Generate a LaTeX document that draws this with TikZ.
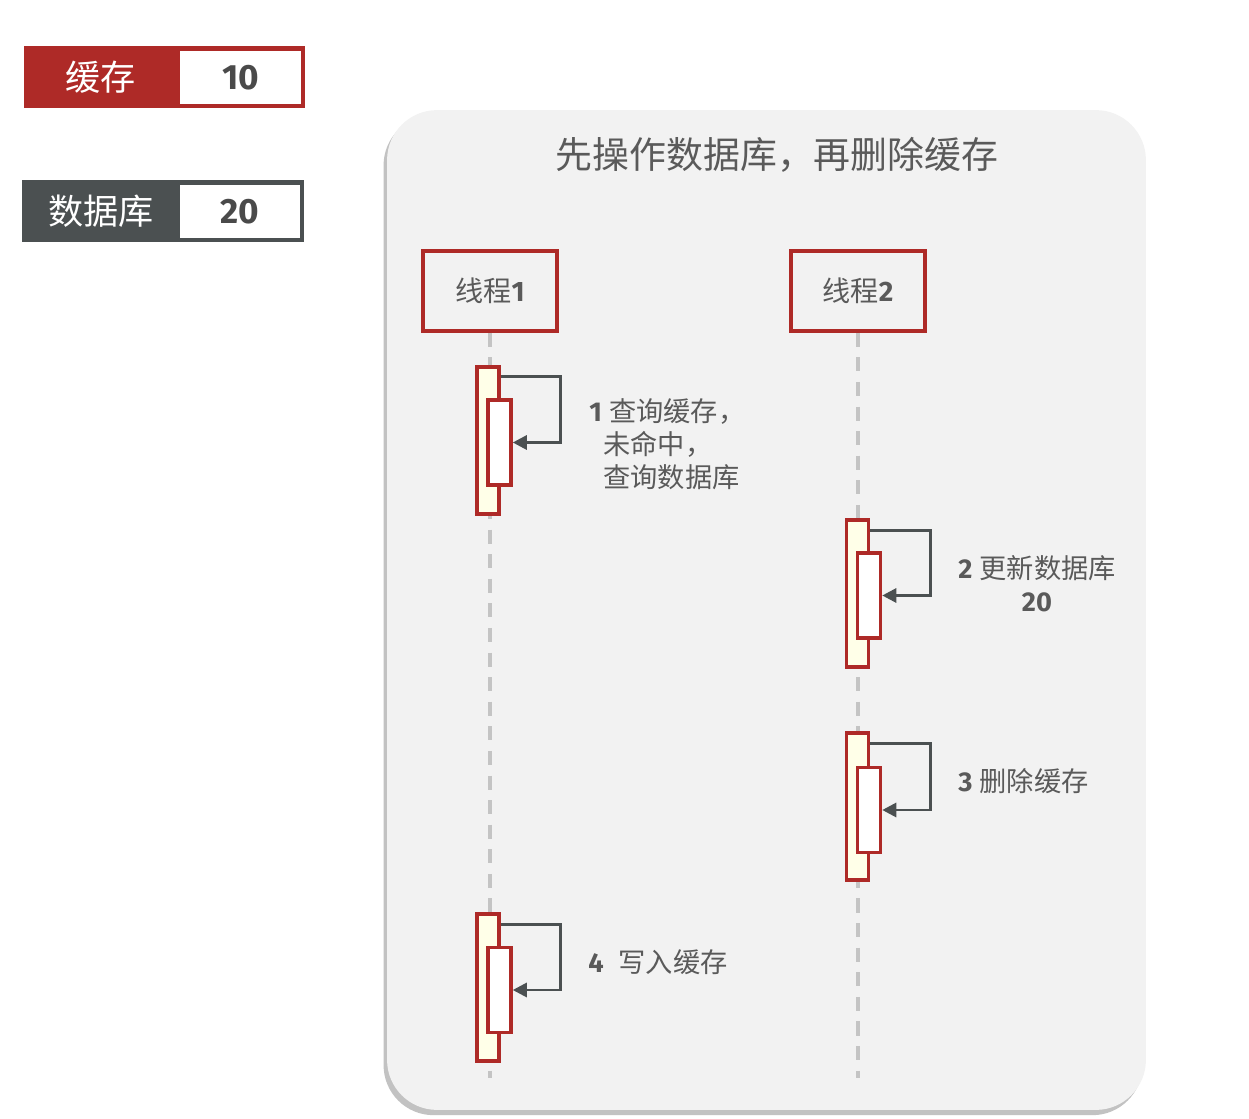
\documentclass[tikz,border=0pt]{standalone}
\usepackage{fontspec}
\setmainfont{Fira Sans}
\newfontfamily\cjk{Noto Sans CJK SC}
\usepackage{tikz}
\usetikzlibrary{arrows.meta,shadows}
\definecolor{redline}{HTML}{AE2A27}
\definecolor{darkbox}{HTML}{4B5051}
\definecolor{panelgray}{HTML}{F2F2F2}
\definecolor{actyellow}{HTML}{FFFFE8}
\definecolor{linegray}{HTML}{C4C4C4}
\definecolor{textgray}{HTML}{5A5A5A}
\definecolor{numgray}{HTML}{4A4A4A}
\tikzset{
  thread/.style={draw=redline, line width=2pt, fill=panelgray, minimum width=2.68cm, minimum height=1.6cm, text=textgray, font=\fontsize{16}{19}\selectfont},
  outerbar/.style={draw=redline, line width=2pt, fill=actyellow, minimum width=0.44cm, minimum height=2.94cm, inner sep=0pt},
  innerbar/.style={draw=redline, line width=2pt, fill=white, minimum width=0.46cm, minimum height=1.7cm, inner sep=0pt},
  lifeline/.style={draw=linegray, line width=1.8pt, dash pattern=on 8pt off 6pt},
  selfmsg/.style={draw=darkbox, line width=1.6pt, -{Triangle[length=0.28cm,width=0.28cm]}},
  steptext/.style={text=textgray, font=\fontsize{15.5}{19}\selectfont, inner sep=0pt},
  valbox/.style={fill=white, minimum width=2.42cm, minimum height=1.06cm, text=numgray, font=\fontsize{20}{24}\selectfont\bfseries}
}
\begin{document}
\begin{tikzpicture}[x=0.02cm, y=-0.02cm]
			\useasboundingbox (0,0) rectangle (1249,1119);
			\node[fill=redline, minimum width=5.62cm, minimum height=1.24cm] (cache) at (164.5,77) {};
			\node[valbox] (cacheval) at (240.5,77.5) {10};
			\node[text=white, font=\fontsize{20}{24}\selectfont\cjk] (cachelbl) at (101,77) {缓存};
			\node[fill=darkbox, minimum width=5.64cm, minimum height=1.24cm] (db) at (163,211) {};
			\node[valbox] (dbval) at (240,211.5) {20};
			\node[text=white, font=\fontsize{20}{24}\selectfont\cjk] (dblbl) at (101,211) {数据库};
			\node[fill=panelgray, rounded corners=1cm, minimum width=15.18cm, minimum height=20cm, drop shadow={shadow xshift=-2pt, shadow yshift=-3pt, fill=black!40, opacity=0.6}] (panel) at (766.5,610) {};
			\node[text=textgray, font=\fontsize{21}{24}\selectfont\cjk] (title) at (777,155) {先操作数据库，再删除缓存};
			\node[thread] (t1) at (490,291) {{\cjk 线程}\textbf{1}};
			\node[thread] (t2) at (858,291) {{\cjk 线程}\textbf{2}};
			\coordinate (end1) at (490,1078);
			\coordinate (end2) at (858,1078);
			\draw[lifeline] (t1.south) -- (end1);
			\draw[lifeline] (t2.south) -- (end2);
			\node[outerbar] (a1) at (488,440.5) {};
			\node[innerbar] (b1) at (499.5,442.5) {};
			\node[outerbar] (a2) at (857.5,593.5) {};
			\node[innerbar] (b2) at (869,595.5) {};
			\node[outerbar] (a3) at (857.5,806.5) {};
			\node[innerbar] (b3) at (869,810) {};
			\node[outerbar] (a4) at (488,987.5) {};
			\node[innerbar] (b4) at (499.5,990) {};
			\draw[selfmsg] ([yshift=-0.22cm]a1.north east) -- ++(1.2cm,0) |- (b1.east);
			\draw[selfmsg] ([yshift=-0.24cm]a2.north east) -- ++(1.2cm,0) |- (b2.east);
			\draw[selfmsg] ([yshift=-0.24cm]a3.north east) -- ++(1.2cm,0) |- (b3.east);
			\draw[selfmsg] ([yshift=-0.24cm]a4.north east) -- ++(1.2cm,0) |- (b4.east);
			\node[steptext, anchor=north west, align=left] (s1) at (589,398) {\textbf{1} {\cjk 查询缓存，}\\\hspace*{0.28cm}{\cjk 未命中，}\\\hspace*{0.28cm}{\cjk 查询数据库}};
			\node[steptext, align=center] (s2) at (1037,584) {\textbf{2} {\cjk 更新数据库}\\\textbf{20}};
			\node[steptext, anchor=west] (s3) at (958,781) {\textbf{3} {\cjk 删除缓存}};
			\node[steptext, anchor=west] (s4) at (588,962) {\textbf{4}\hspace{0.3cm}{\cjk 写入缓存}};
		\end{tikzpicture}
\end{document}
